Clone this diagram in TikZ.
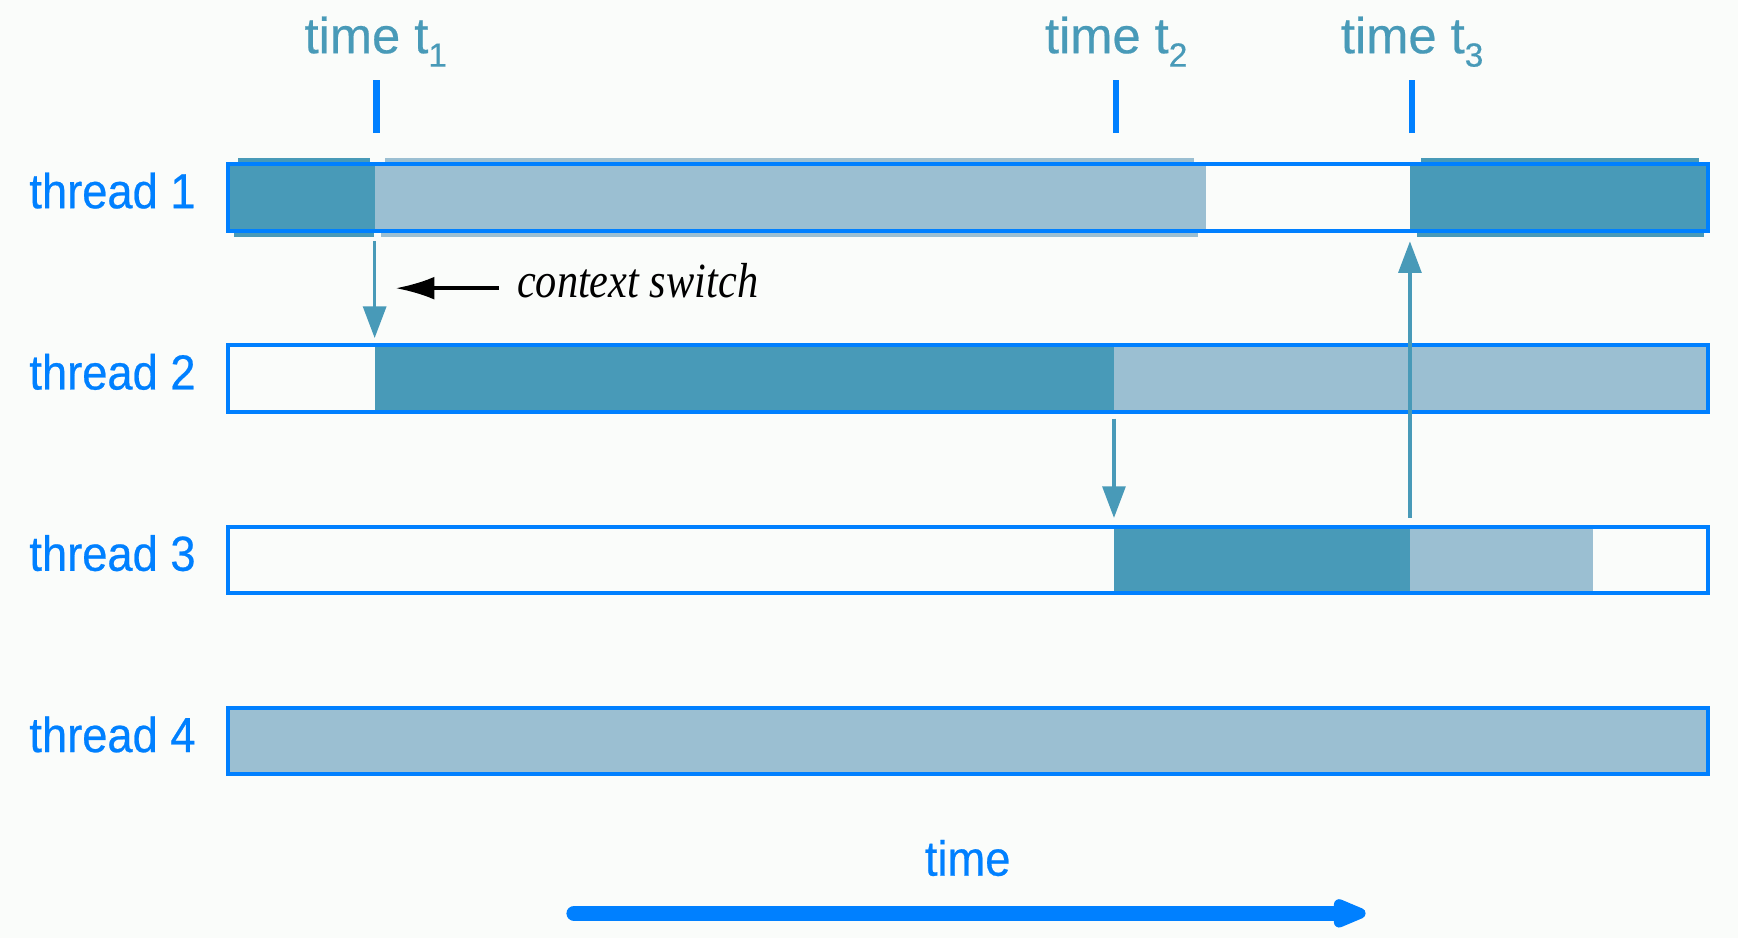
\documentclass[tikz,border=0pt]{standalone}
\usepackage{fontspec}
\setmainfont{Liberation Sans}[FakeBold=0.4]
\newfontfamily\lblfont{Liberation Sans}[FakeStretch=0.92, FakeBold=0.5]
\newfontfamily\csfont{Liberation Serif}[FakeStretch=0.86]
\usepackage{tikz}
\usetikzlibrary{positioning, arrows.meta, backgrounds}
\definecolor{runblue}{RGB}{72,154,184}
\definecolor{waitblue}{RGB}{155,191,210}
\definecolor{edgeblue}{RGB}{0,128,255}
\definecolor{paper}{RGB}{250,252,250}

\newcommand\tsub[1]{\raisebox{-3.8pt}{\fontsize{9.5}{10}\selectfont#1}}

\begin{document}
\begin{tikzpicture}[
  x=0.011084cm, y=-0.011084cm,
  threadbar/.style={rectangle, draw=edgeblue, line width=1.1pt, minimum width=14.79cm, minimum height=0.665cm, inner sep=0pt},
  threadlbl/.style={text=edgeblue, font=\fontsize{14}{16}\lblfont, inner sep=0pt, yshift=1.9pt},
  timelbl/.style={text=runblue, font=\fontsize{14.4}{16}\selectfont, inner sep=0pt, anchor=base},
  cslbl/.style={text=black, font=\fontsize{14}{16}\csfont\itshape, inner xsep=5pt, inner ysep=0pt, anchor=base west},
  tickmark/.style={draw=edgeblue, line width=1.8pt},
  swarrow/.style={draw=runblue, line width=1pt, -{Triangle[length=9pt, width=6.5pt]}},
  pointer/.style={draw=black, line width=1pt, -{Latex[length=11pt, width=6.5pt]}},
  timeaxis/.style={draw=edgeblue, line width=4.4pt, line cap=round, -{Triangle[length=0.42cm, width=0.3cm, round]}},
  node distance=1.108cm
]
\path[use as bounding box] (0,0) rectangle (1568,846);

% one bar per thread
\node[threadbar] (th1) at (873.5,178) {};
\node[threadbar, below=of th1] (th2) {};
\node[threadbar, below=of th2] (th3) {};
\node[threadbar, below=of th3] (th4) {};
\foreach \i in {1,...,4}
  \node[threadlbl, left=0.3cm of th\i] (lbl\i) {thread \i};

% switch times and run ends
\coordinate (t1) at (338,120);
\coordinate (t2) at (1005,120);
\coordinate (t3) at (1272,120);
\coordinate (e1) at (1088,0);
\coordinate (e3) at (1437,0);

\foreach \t in {t1,t2,t3}
  \draw[tickmark] ([xshift=0.5pt]\t) -- ++(0,-48);
\node[timelbl] (lt1) at (339,48) {time t\tsub{1}};
\node[timelbl] (lt2) at (1007,48) {time t\tsub{2}};
\node[timelbl] (lt3) at (1274,48) {time t\tsub{3}};

\begin{pgfonlayer}{background}
  \fill[paper] (0,0) rectangle (1568,846);
  % thread 1
  \fill[runblue] (th1.north west) rectangle (th1.south -| t1);
  \fill[waitblue] (th1.north -| t1) rectangle (th1.south -| e1);
  \fill[runblue] (th1.north -| t3) rectangle (th1.south east);
  \fill[runblue] (215,142.5) rectangle (334,147);
  \fill[runblue] (211,209) rectangle (337,213.5);
  \fill[waitblue] (347,142.5) rectangle (1077,147);
  \fill[waitblue] (344,209) rectangle (1081,213.5);
  \fill[runblue] (1282,142.5) rectangle (1533,147);
  \fill[runblue] (1278,209) rectangle (1537,213.5);
  % thread 2
  \fill[runblue] (th2.north -| t1) rectangle (th2.south -| t2);
  \fill[waitblue] (th2.north -| t2) rectangle (th2.south east);
  % thread 3
  \fill[runblue] (th3.north -| t2) rectangle (th3.south -| t3);
  \fill[waitblue] (th3.north -| t3) rectangle (th3.south -| e3);
  % thread 4
  \fill[waitblue] (th4.north west) rectangle (th4.south east);
\end{pgfonlayer}

% context switches
\draw[swarrow, shorten <=2.5pt, shorten >=1.5pt] (th1.south -| t1) -- (th2.north -| t1);
\draw[swarrow, shorten <=1.4pt, shorten >=1.9pt] (th2.south -| t2) -- (th3.north -| t2);
\draw[swarrow, shorten <=1.9pt, shorten >=2.5pt] (th3.north -| t3) -- (th1.south -| t3);

\node[cslbl] (cs) at (450,268) {context switch};
\coordinate (csTip) at (357,260);
\draw[pointer] (cs.west |- csTip) -- (csTip);

% time axis
\node[timelbl, text=edgeblue, font=\fontsize{14}{16}\lblfont] (tm) at (873,790) {time};
\coordinate (ta) at (518,824);
\coordinate (tb) at (1232,824);
\draw[timeaxis] (ta) -- (tb);
\end{tikzpicture}
\end{document}
